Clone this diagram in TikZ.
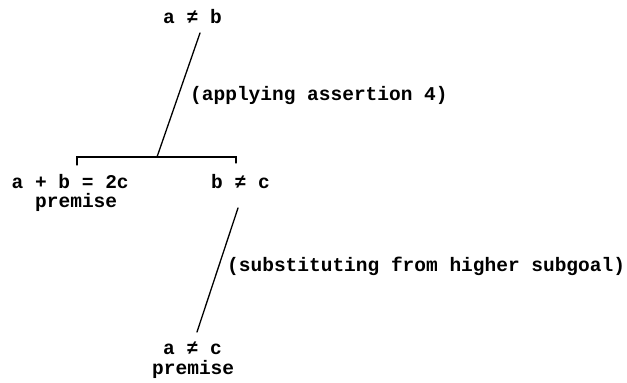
\documentclass[tikz,border=0pt]{standalone}
\usepackage{fontspec}
\setmonofont{Liberation Mono}
\begin{document}
\begin{tikzpicture}[x=1pt,y=-1pt,
  txt/.style={anchor=base west,inner sep=0pt,font=\ttfamily\bfseries\fontsize{19.5}{20}\selectfont},
  prem/.style={txt,text height=10pt},
  conn/.style={line width=1.3pt,line cap=round}]
\useasboundingbox (0,0) rectangle (627,383);
% texts
\node[txt] (ab) at (163,23) {a ≠ b};
\node[txt] (lab1) at (190,100) {(applying assertion 4)};
\node[txt,text depth=0pt] (left) at (11.5,188) {a + b = 2c};
\node[prem] (prem1) at (35,207) {premise};
\node[txt] (bnc) at (211,188) {b ≠ c};
\node[txt] (lab2) at (227,271) {(substituting from higher subgoal)};
\node[txt,text depth=0pt] (anc) at (163,354) {a ≠ c};
\node[prem] (prem2) at (152,374) {premise};
% connector points
\coordinate (t1) at (200,33);
\coordinate (j1) at (157,157);
\coordinate (bl) at (77,157);
\coordinate (br) at (236,157);
\coordinate (t2) at (238,208);
\coordinate (b2) at (197,332);
% connectors
\draw[conn] (t1) -- (j1);
\draw[conn] ([yshift=-8pt]bl) -- (bl) -- (br) -- ([yshift=-6pt]br);
\draw[conn] (t2) -- (b2);
\end{tikzpicture}
\end{document}
